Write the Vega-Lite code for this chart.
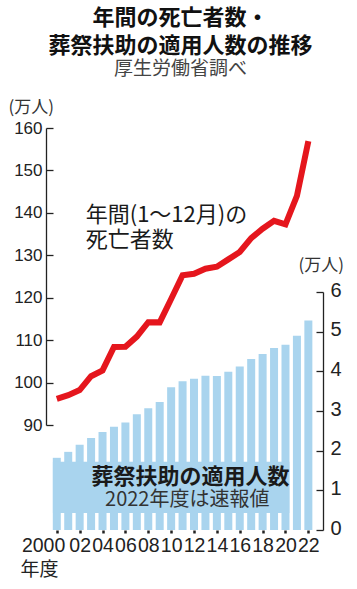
{
  "$schema": "https://vega.github.io/schema/vega-lite/v6.json",
  "width": 277,
  "height": 402,
  "autosize": {"type": "none"},
  "padding": {"left": 46, "top": 128, "right": 34, "bottom": 59},
  "background": "white",
  "title": {
    "text": ["年間の死亡者数・", "葬祭扶助の適用人数の推移"],
    "subtitle": "厚生労働省調べ",
    "anchor": "middle",
    "dx": -4,
    "offset": 18,
    "font": "Noto Sans CJK JP",
    "fontSize": 22,
    "fontWeight": "bold",
    "lineHeight": 28,
    "color": "#111111",
    "subtitleFont": "Noto Sans CJK JP",
    "subtitleFontSize": 19,
    "subtitleColor": "#444444",
    "subtitlePadding": 2
  },
  "config": {"view": {"stroke": null}, "axis": {"labelOverlap": false}},
  "datasets": {
    "deaths": [
      {"year": 2000, "deaths": 96.17},
      {"year": 2001, "deaths": 97.03},
      {"year": 2002, "deaths": 98.24},
      {"year": 2003, "deaths": 101.5},
      {"year": 2004, "deaths": 102.86},
      {"year": 2005, "deaths": 108.38},
      {"year": 2006, "deaths": 108.45},
      {"year": 2007, "deaths": 110.83},
      {"year": 2008, "deaths": 114.24},
      {"year": 2009, "deaths": 114.19},
      {"year": 2010, "deaths": 119.7},
      {"year": 2011, "deaths": 125.31},
      {"year": 2012, "deaths": 125.64},
      {"year": 2013, "deaths": 126.84},
      {"year": 2014, "deaths": 127.3},
      {"year": 2015, "deaths": 129.04},
      {"year": 2016, "deaths": 130.77},
      {"year": 2017, "deaths": 134.06},
      {"year": 2018, "deaths": 136.25},
      {"year": 2019, "deaths": 138.11},
      {"year": 2020, "deaths": 137.28},
      {"year": 2021, "deaths": 143.99},
      {"year": 2022, "deaths": 156.9}
    ],
    "funeral": [
      {"year": 2000, "people": 1.82},
      {"year": 2001, "people": 1.97},
      {"year": 2002, "people": 2.15},
      {"year": 2003, "people": 2.32},
      {"year": 2004, "people": 2.47},
      {"year": 2005, "people": 2.6},
      {"year": 2006, "people": 2.71},
      {"year": 2007, "people": 2.92},
      {"year": 2008, "people": 3.07},
      {"year": 2009, "people": 3.23},
      {"year": 2010, "people": 3.6},
      {"year": 2011, "people": 3.75},
      {"year": 2012, "people": 3.81},
      {"year": 2013, "people": 3.89},
      {"year": 2014, "people": 3.88},
      {"year": 2015, "people": 3.99},
      {"year": 2016, "people": 4.12},
      {"year": 2017, "people": 4.31},
      {"year": 2018, "people": 4.44},
      {"year": 2019, "people": 4.59},
      {"year": 2020, "people": 4.67},
      {"year": 2021, "people": 4.9},
      {"year": 2022, "people": 5.28}
    ]
  },
  "layer": [
    {
      "layer": [
        {
          "data": {"name": "funeral"},
          "mark": {"type": "bar", "width": 8, "color": "#a9d4ee"},
          "encoding": {
            "x": {
              "field": "year",
              "type": "quantitative",
              "scale": {"domain": [1999.494, 2022.843], "nice": false, "zero": false},
              "axis": {"orient": "bottom", "values": [2000, 2002, 2004, 2006, 2008, 2010, 2012, 2014, 2016, 2018, 2020, 2022], "labelExpr": "datum.value == 2000 ? '2000' : slice(toString(datum.value), 2)", "labelAlign": {"condition": {"test": "datum.value == 2000", "value": "right"}, "value": "center"}, "labelOffset": {"condition": {"test": "datum.value == 2000", "value": 8}, "value": 0}, "domain": false, "grid": false, "tickSize": 3, "tickWidth": 2.5, "tickColor": "#222222", "labelFont": "Liberation Sans", "labelFontSize": 19.5, "labelColor": "#222222", "labelPadding": 3, "labelFlush": false, "labelOverlap": false, "labelBound": false, "title": "年度", "titleFont": "Noto Sans CJK JP", "titleFontSize": 19, "titleFontWeight": "normal", "titleColor": "#222222", "titleAlign": "left", "titleAnchor": null, "titleBaseline": "alphabetic", "titleX": -26, "titleY": 45}
            },
            "y": {
              "field": "people",
              "type": "quantitative",
              "scale": {"domain": [0, 6], "range": [402, 164], "nice": false, "zero": true},
              "axis": {
                "orient": "right",
                "values": [0, 1, 2, 3, 4, 5, 6],
                "format": "d",
                "grid": false,
                "domainColor": "#222222",
                "domainWidth": 1.3,
                "tickColor": "#222222",
                "tickWidth": 1.3,
                "tickSize": -7,
                "labelPadding": 14,
                "labelFont": "Liberation Sans",
                "labelFontSize": 20,
                "labelColor": "#222222",
                "labelBaseline": "middle",
                "labelOffset": -2,
                "labelFlush": false,
                "title": "(万人)",
                "titleFont": "Noto Sans CJK JP",
                "titleFontSize": 17,
                "titleFontWeight": "normal",
                "titleColor": "#333333",
                "titleAngle": 0,
                "titleAlign": "left",
                "titleAnchor": null,
                "titleBaseline": "alphabetic",
                "titleX": -25,
                "titleY": 142
              }
            }
          }
        },
        {
          "data": {"values": [{"title": "葬祭扶助の適用人数", "note": "2022年度は速報値"}]},
          "layer": [
            {
              "mark": {"type": "rect", "color": "#a9d4ee"},
              "encoding": {
                "x": {"datum": 1999.66, "axis": {"orient": "bottom", "values": [2000, 2002, 2004, 2006, 2008, 2010, 2012, 2014, 2016, 2018, 2020, 2022], "labelExpr": "datum.value == 2000 ? '2000' : slice(toString(datum.value), 2)", "labelAlign": {"condition": {"test": "datum.value == 2000", "value": "right"}, "value": "center"}, "labelOffset": {"condition": {"test": "datum.value == 2000", "value": 8}, "value": 0}, "domain": false, "grid": false, "tickSize": 3, "tickWidth": 2.5, "tickColor": "#222222", "labelFont": "Liberation Sans", "labelFontSize": 19.5, "labelColor": "#222222", "labelPadding": 3, "labelFlush": false, "labelOverlap": false, "labelBound": false, "title": "年度", "titleFont": "Noto Sans CJK JP", "titleFontSize": 19, "titleFontWeight": "normal", "titleColor": "#222222", "titleAlign": "left", "titleAnchor": null, "titleBaseline": "alphabetic", "titleX": -26, "titleY": 45}},
                "x2": {"datum": 2020.34},
                "y": {"datum": 0.43},
                "y2": {"datum": 1.72}
              }
            },
            {
              "mark": {"type": "text", "font": "Noto Sans CJK JP", "fontSize": 22, "fontWeight": "bold", "color": "#1a1a1a", "align": "left", "baseline": "alphabetic"},
              "encoding": {
                "text": {"field": "title"},
                "x": {"datum": 2003.04, "axis": {"orient": "bottom", "values": [2000, 2002, 2004, 2006, 2008, 2010, 2012, 2014, 2016, 2018, 2020, 2022], "labelExpr": "datum.value == 2000 ? '2000' : slice(toString(datum.value), 2)", "labelAlign": {"condition": {"test": "datum.value == 2000", "value": "right"}, "value": "center"}, "labelOffset": {"condition": {"test": "datum.value == 2000", "value": 8}, "value": 0}, "domain": false, "grid": false, "tickSize": 3, "tickWidth": 2.5, "tickColor": "#222222", "labelFont": "Liberation Sans", "labelFontSize": 19.5, "labelColor": "#222222", "labelPadding": 3, "labelFlush": false, "labelOverlap": false, "labelBound": false, "title": "年度", "titleFont": "Noto Sans CJK JP", "titleFontSize": 19, "titleFontWeight": "normal", "titleColor": "#222222", "titleAlign": "left", "titleAnchor": null, "titleBaseline": "alphabetic", "titleX": -26, "titleY": 45}},
                "y": {"datum": 1.16}
              }
            },
            {
              "mark": {"type": "text", "font": "Noto Sans CJK JP", "fontSize": 20, "color": "#333333", "align": "left", "baseline": "alphabetic"},
              "encoding": {
                "text": {"field": "note"},
                "x": {"datum": 2004.22, "axis": {"orient": "bottom", "values": [2000, 2002, 2004, 2006, 2008, 2010, 2012, 2014, 2016, 2018, 2020, 2022], "labelExpr": "datum.value == 2000 ? '2000' : slice(toString(datum.value), 2)", "labelAlign": {"condition": {"test": "datum.value == 2000", "value": "right"}, "value": "center"}, "labelOffset": {"condition": {"test": "datum.value == 2000", "value": 8}, "value": 0}, "domain": false, "grid": false, "tickSize": 3, "tickWidth": 2.5, "tickColor": "#222222", "labelFont": "Liberation Sans", "labelFontSize": 19.5, "labelColor": "#222222", "labelPadding": 3, "labelFlush": false, "labelOverlap": false, "labelBound": false, "title": "年度", "titleFont": "Noto Sans CJK JP", "titleFontSize": 19, "titleFontWeight": "normal", "titleColor": "#222222", "titleAlign": "left", "titleAnchor": null, "titleBaseline": "alphabetic", "titleX": -26, "titleY": 45}},
                "y": {"datum": 0.6}
              }
            }
          ]
        }
      ]
    },
    {
      "layer": [
        {
          "data": {"name": "deaths"},
          "mark": {"type": "line", "color": "#e5161d", "strokeWidth": 6, "strokeJoin": "miter", "strokeCap": "butt"},
          "encoding": {
            "x": {"field": "year", "type": "quantitative", "axis": {"orient": "bottom", "values": [2000, 2002, 2004, 2006, 2008, 2010, 2012, 2014, 2016, 2018, 2020, 2022], "labelExpr": "datum.value == 2000 ? '2000' : slice(toString(datum.value), 2)", "labelAlign": {"condition": {"test": "datum.value == 2000", "value": "right"}, "value": "center"}, "labelOffset": {"condition": {"test": "datum.value == 2000", "value": 8}, "value": 0}, "domain": false, "grid": false, "tickSize": 3, "tickWidth": 2.5, "tickColor": "#222222", "labelFont": "Liberation Sans", "labelFontSize": 19.5, "labelColor": "#222222", "labelPadding": 3, "labelFlush": false, "labelOverlap": false, "labelBound": false, "title": "年度", "titleFont": "Noto Sans CJK JP", "titleFontSize": 19, "titleFontWeight": "normal", "titleColor": "#222222", "titleAlign": "left", "titleAnchor": null, "titleBaseline": "alphabetic", "titleX": -26, "titleY": 45}},
            "y": {
              "field": "deaths",
              "type": "quantitative",
              "scale": {"domain": [90, 160], "range": [297, 0], "nice": false, "zero": false},
              "axis": {
                "orient": "left",
                "values": [90, 100, 110, 120, 130, 140, 150, 160],
                "grid": false,
                "domainColor": "#222222",
                "domainWidth": 1.3,
                "tickColor": "#222222",
                "tickWidth": 1.3,
                "tickSize": -7,
                "labelPadding": 11,
                "labelFont": "Liberation Sans",
                "labelFontSize": 17,
                "labelColor": "#222222",
                "labelBaseline": "middle",
                "labelFlush": false,
                "title": "(万人)",
                "titleFont": "Noto Sans CJK JP",
                "titleFontSize": 17,
                "titleFontWeight": "normal",
                "titleColor": "#333333",
                "titleAngle": 0,
                "titleAlign": "left",
                "titleAnchor": null,
                "titleBaseline": "alphabetic",
                "titleX": -38,
                "titleY": -16
              }
            }
          }
        },
        {
          "data": {"values": [{"line1": "年間(1〜12月)の", "line2": "死亡者数"}]},
          "layer": [
            {
              "mark": {"type": "text", "font": "Noto Sans CJK JP", "fontSize": 22, "color": "#1a1a1a", "align": "left", "baseline": "alphabetic"},
              "encoding": {
                "text": {"field": "line1"},
                "x": {"datum": 2002.53, "axis": {"orient": "bottom", "values": [2000, 2002, 2004, 2006, 2008, 2010, 2012, 2014, 2016, 2018, 2020, 2022], "labelExpr": "datum.value == 2000 ? '2000' : slice(toString(datum.value), 2)", "labelAlign": {"condition": {"test": "datum.value == 2000", "value": "right"}, "value": "center"}, "labelOffset": {"condition": {"test": "datum.value == 2000", "value": 8}, "value": 0}, "domain": false, "grid": false, "tickSize": 3, "tickWidth": 2.5, "tickColor": "#222222", "labelFont": "Liberation Sans", "labelFontSize": 19.5, "labelColor": "#222222", "labelPadding": 3, "labelFlush": false, "labelOverlap": false, "labelBound": false, "title": "年度", "titleFont": "Noto Sans CJK JP", "titleFontSize": 19, "titleFontWeight": "normal", "titleColor": "#222222", "titleAlign": "left", "titleAnchor": null, "titleBaseline": "alphabetic", "titleX": -26, "titleY": 45}},
                "y": {"datum": 137.8}
              }
            },
            {
              "mark": {"type": "text", "font": "Noto Sans CJK JP", "fontSize": 22, "color": "#1a1a1a", "align": "left", "baseline": "alphabetic"},
              "encoding": {
                "text": {"field": "line2"},
                "x": {"datum": 2002.53, "axis": {"orient": "bottom", "values": [2000, 2002, 2004, 2006, 2008, 2010, 2012, 2014, 2016, 2018, 2020, 2022], "labelExpr": "datum.value == 2000 ? '2000' : slice(toString(datum.value), 2)", "labelAlign": {"condition": {"test": "datum.value == 2000", "value": "right"}, "value": "center"}, "labelOffset": {"condition": {"test": "datum.value == 2000", "value": 8}, "value": 0}, "domain": false, "grid": false, "tickSize": 3, "tickWidth": 2.5, "tickColor": "#222222", "labelFont": "Liberation Sans", "labelFontSize": 19.5, "labelColor": "#222222", "labelPadding": 3, "labelFlush": false, "labelOverlap": false, "labelBound": false, "title": "年度", "titleFont": "Noto Sans CJK JP", "titleFontSize": 19, "titleFontWeight": "normal", "titleColor": "#222222", "titleAlign": "left", "titleAnchor": null, "titleBaseline": "alphabetic", "titleX": -26, "titleY": 45}},
                "y": {"datum": 131.9}
              }
            }
          ]
        }
      ]
    }
  ],
  "resolve": {"scale": {"y": "independent"}, "axis": {"y": "independent"}}
}
